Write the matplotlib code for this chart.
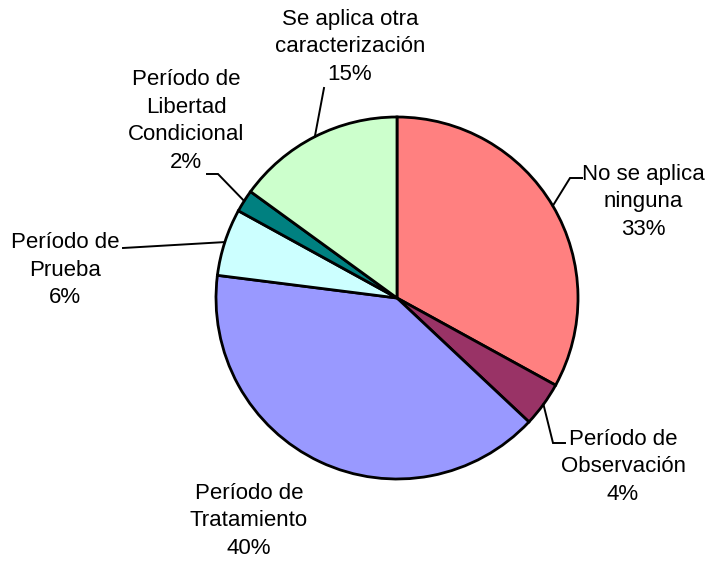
import numpy as np
import matplotlib
matplotlib.use('Agg')
import matplotlib.pyplot as plt

plt.rcParams['font.family'] = ['Liberation Sans', 'DejaVu Sans']

categorias = ['No se aplica\nninguna', 'Período de\nObservación', 'Período de\nTratamiento',
              'Período de\nPrueba', 'Período de\nLibertad\nCondicional',
              'Se aplica otra\ncaracterización']
valores = [33, 4, 40, 6, 2, 15]
colores = ['#FF8080', '#993366', '#9999FF', '#CCFFFF', '#008080', '#CCFFCC']

W, H = 714, 562
# posiciones en pixeles desde arriba (x, y)
centro = (397, 298)
radio = 181
pos_texto = [(643, 202), (623, 467), (249, 521), (65, 270), (186, 121), (350, 47)]
# codo de la linea guia y final horizontal (None = sin linea)
guias = [((570, 178), (582, 178)),
         ((553, 443), (565, 443)),
         None,
         ((123, 248), (123, 248)),
         ((218, 174), (207, 174)),
         ((324, 88), (324, 88))]


def py(y):
    return H - y


fig = plt.figure(figsize=(W / 100, H / 100), dpi=100)
ax = fig.add_axes([0, 0, 1, 1])

wedges, _ = ax.pie(valores, colors=colores, startangle=90, counterclock=False,
                   center=(centro[0], py(centro[1])), radius=radio,
                   wedgeprops=dict(edgecolor='black', linewidth=2.0))
ax.set_xlim(0, W)
ax.set_ylim(0, H)
ax.set_aspect('equal')
ax.axis('off')

total = sum(valores)
for w, cat, v, pt, g in zip(wedges, categorias, valores, pos_texto, guias):
    ax.text(pt[0], py(pt[1]), f'{cat}\n{round(100 * v / total)}%', ha='center', va='center',
            fontsize=16, linespacing=1.42, color='black')
    if g is None:
        continue
    ang = np.deg2rad((w.theta1 + w.theta2) / 2)
    x0 = w.center[0] + w.r * np.cos(ang)
    y0 = w.center[1] + w.r * np.sin(ang)
    (xe, ye), (xf, yf) = g
    ax.plot([x0, xe, xf], [y0, py(ye), py(yf)], color='black', lw=1.4,
            solid_joinstyle='miter')

fig.savefig('out.png', dpi=100)
